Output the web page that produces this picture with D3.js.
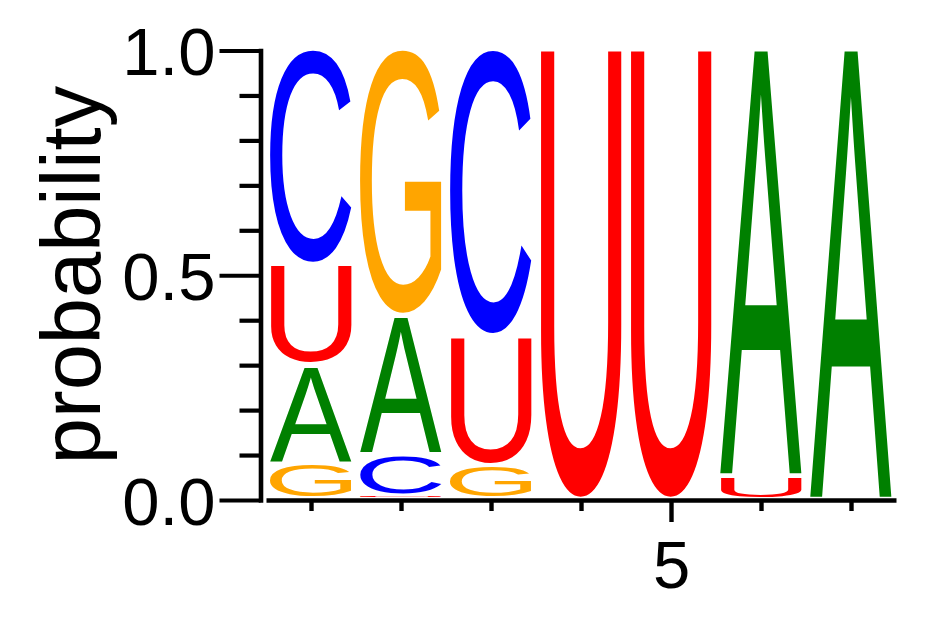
<!DOCTYPE html>
<html><head><meta charset="utf-8">
<script src="https://cdn.jsdelivr.net/npm/d3@7"></script>
<style>
html,body{margin:0;padding:0;background:#fff;}
svg{display:block;}
text{font-family:"Liberation Sans",Arial,Helvetica,sans-serif;}
</style></head>
<body>
<svg id="chart" width="942" height="617"></svg>
<script>
// ---- data ----
const positions = [1, 2, 3, 4, 5, 6, 7];
const bases = ["A", "C", "G", "U"];
const probA = [0.217, 0.308, 0.000, 0.000, 0.000, 0.948, 1.000];
const probC = [0.479, 0.092, 0.637, 0.000, 0.000, 0.000, 0.000];
const probG = [0.080, 0.592, 0.076, 0.000, 0.000, 0.000, 0.000];
const probU = [0.224, 0.008, 0.287, 1.000, 1.000, 0.052, 0.000];
const baseColors = ["#008000", "#0000ff", "#ffa500", "#ff0000"];
const yMajorTicks = [0, 0.5, 1.0];
const yMajorLabels = ["0.0", "0.5", "1.0"];
const yMinorTicks = [0.1, 0.2, 0.3, 0.4, 0.6, 0.7, 0.8, 0.9];
const xLabelTicks = [5];
const yTitle = "probability";

// ---- layout ----
const svg = d3.select("#chart");
const x = d3.scaleLinear().domain([0.5, 7.5]).range([266, 896]);
const y = d3.scaleLinear().domain([0, 1]).range([500, 50.5]);
const yL = d3.scaleLinear().domain([0, 1]).range([499, 48]);
const color = d3.scaleOrdinal().domain(bases).range(baseColors);
const axisX = 260.5;
const pad = 2.2;

// glyph tight bounds via canvas
const cnv = document.createElement("canvas");
const ctx = cnv.getContext("2d");
const FS = 100;
ctx.font = FS + "px 'Liberation Sans', Arial, sans-serif";
function bounds(ch) {
  const m = ctx.measureText(ch);
  return {l: m.actualBoundingBoxLeft, r: m.actualBoundingBoxRight,
          a: m.actualBoundingBoxAscent, d: m.actualBoundingBoxDescent};
}

const probs = [probA, probC, probG, probU];
const colW = (x(1.5) - x(0.5)) * 0.91;
const gLetters = svg.append("g");
positions.forEach((p, i) => {
  const items = bases.map((b, k) => ({b, v: probs[k][i]})).filter(d => d.v > 0);
  items.sort((a, c) => a.v - c.v);
  let cum = 0;
  items.forEach(d => {
    const y0 = yL(cum), y1 = yL(cum + d.v);
    cum += d.v;
    let top = y1 + pad, bot = y0 - pad;
    if (bot - top < 0.6) { const mid = (top + bot) / 2; top = mid - 0.3; bot = mid + 0.3; }
    const h = bot - top;
    const left = x(p) - colW / 2;
    const bb = bounds(d.b);
    const sx = colW / (bb.l + bb.r), sy = h / (bb.a + bb.d);
    gLetters.append("text")
      .attr("font-size", FS)
      .attr("fill", color(d.b))
      .attr("transform", `translate(${left},${top}) scale(${sx},${sy}) translate(${bb.l},${bb.a})`)
      .text(d.b);
  });
});

// ---- y axis ----
const gy = svg.append("g").attr("transform", `translate(${axisX},0)`);
gy.append("g").call(d3.axisLeft(y).tickValues(yMinorTicks).tickSize(21).tickFormat(""))
  .call(g => g.select(".domain").remove());
gy.append("g").call(d3.axisLeft(y).tickValues(yMajorTicks).tickSize(41).tickSizeOuter(0).tickPadding(4)
    .tickFormat((d, i) => yMajorLabels[i]))
  .call(g => g.selectAll("text").attr("font-size", 67).attr("dy", "0.36em")
    .attr("font-family", "'Liberation Sans', Arial, sans-serif").attr("fill", "#000"));
gy.selectAll("line").attr("stroke", "#000").attr("stroke-width", 4.2);
gy.selectAll(".domain").attr("stroke", "#000").attr("stroke-width", 4.6).attr("stroke-linecap", "square");

// ---- x axis ----
const gx = svg.append("g").attr("transform", `translate(0,500)`);
gx.append("g").call(d3.axisBottom(x).tickValues(positions.filter(p => !xLabelTicks.includes(p)))
    .tickSize(11).tickSizeOuter(0).tickFormat(""));
gx.append("g").call(d3.axisBottom(x).tickValues(xLabelTicks).tickSize(22).tickSizeOuter(0)
    .tickFormat(d3.format("d")))
  .call(g => g.select(".domain").remove())
  .call(g => g.selectAll("text").attr("font-size", 67).attr("y", 88).attr("dy", 0)
    .attr("font-family", "'Liberation Sans', Arial, sans-serif").attr("fill", "#000"));
gx.selectAll("line").attr("stroke", "#000").attr("stroke-width", 4.4);
gx.selectAll(".domain").attr("stroke", "#000").attr("stroke-width", 4.6);

// ---- y title ----
svg.append("text")
  .attr("transform", `translate(100,275) rotate(-90)`)
  .attr("text-anchor", "middle")
  .attr("font-size", 83)
  .attr("fill", "#000")
  .text(yTitle);
</script>
</body></html>
